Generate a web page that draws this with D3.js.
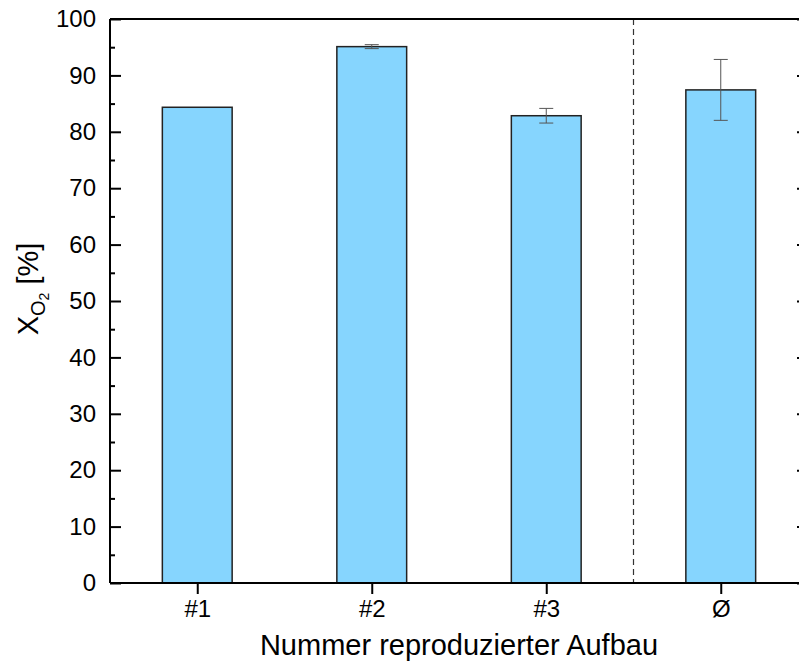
<!DOCTYPE html>
<html><head><meta charset="utf-8">
<script src="https://cdn.jsdelivr.net/npm/d3@7"></script>
<style>body{margin:0;background:#fff}svg{display:block}text{font-family:"Liberation Sans",Arial,sans-serif;fill:#000}</style>
</head><body>
<svg id="c" width="799" height="663"></svg>
<script>
const categories = ["#1", "#2", "#3", "Ø"];
const values = [84.35, 95.1, 82.85, 87.43];
const errors = [0, 0.35, 1.3, 5.4];
const yTicks = [0, 10, 20, 30, 40, 50, 60, 70, 80, 90, 100];
const separatorAt = 3.5;

const svg = d3.select("#c");
const L = 110, R = 808, T = 19, B = 583;
const x = d3.scaleLinear().domain([0.5, 4.5]).range([L, R]);
const y = d3.scaleLinear().domain([0, 100]).range([B, T]);
const bw = 0.4;

// bars
svg.append("g").selectAll("rect").data(values).join("rect")
  .attr("x", (d,i) => x(i+1-bw/2)).attr("width", x(1+bw/2)-x(1-bw/2))
  .attr("y", d => y(d)).attr("height", d => y(0)-y(d))
  .attr("fill", "#86d5fe").attr("stroke", "#222").attr("stroke-width", 1.5);

// error bars
const eg = svg.append("g").attr("stroke", "#555").attr("stroke-width", 1);
values.forEach((v,i) => {
  const e = errors[i]; if (!e) return;
  const cx = x(i+1);
  eg.append("line").attr("x1", cx).attr("x2", cx).attr("y1", y(v+e)).attr("y2", y(v-e));
  eg.append("line").attr("x1", cx-7).attr("x2", cx+7).attr("y1", y(v+e)).attr("y2", y(v+e));
  eg.append("line").attr("x1", cx-7).attr("x2", cx+7).attr("y1", y(v-e)).attr("y2", y(v-e));
});

// separator
svg.append("line").attr("x1", x(separatorAt)).attr("x2", x(separatorAt)).attr("y1", T).attr("y2", B)
  .attr("stroke", "#333").attr("stroke-width", 1.2).attr("stroke-dasharray", "6,4");

// axes
const minor = d3.range(5, 100, 10);
const gl = svg.append("g").attr("transform", `translate(${L},0)`)
  .call(d3.axisLeft(y).tickValues(yTicks).tickSize(-11).tickPadding(24).tickFormat(d3.format("d")));
const gr = svg.append("g").attr("transform", `translate(${R},0)`)
  .call(d3.axisRight(y).tickValues(yTicks).tickSize(-11).tickFormat(""));
const glm = svg.append("g").attr("transform", `translate(${L},0)`)
  .call(d3.axisLeft(y).tickValues(minor).tickSize(-5).tickFormat(""));
const grm = svg.append("g").attr("transform", `translate(${R},0)`)
  .call(d3.axisRight(y).tickValues(minor).tickSize(-5).tickFormat(""));
const gb = svg.append("g").attr("transform", `translate(0,${B})`)
  .call(d3.axisBottom(x).tickValues([1,2,3,4]).tickSize(11).tickPadding(6).tickFormat((d,i) => categories[i]));
const gt = svg.append("g").attr("transform", `translate(0,${T})`)
  .call(d3.axisTop(x).tickValues([]).tickSizeOuter(0));
[gl, gr, glm, grm, gb, gt].forEach(g => {
  g.selectAll(".domain").attr("stroke", "#000").attr("stroke-width", 2);
  g.selectAll(".tick line").attr("stroke", "#000").attr("stroke-width", 2);
  g.selectAll("text").attr("font-size", 24).attr("font-family", "Liberation Sans, Arial, sans-serif").attr("fill", "#000");
});
[gl, gr, glm, grm].forEach(g => g.select(".domain").attr("d", `M0,${B}V${T}`));
gb.select(".domain").attr("d", `M${L},0H${R}`);
gt.select(".domain").attr("d", `M${L},0H${R}`);
gl.selectAll("text").attr("x", -14);

// titles
svg.append("text").attr("x", 459).attr("y", 655).attr("text-anchor", "middle")
  .attr("font-size", 29).text("Nummer reproduzierter Aufbau");
const yt = svg.append("text").attr("transform", "translate(38,289) rotate(-90)").attr("text-anchor", "middle").attr("font-size", 29);
yt.append("tspan").text("X");
yt.append("tspan").attr("font-size", 20).attr("dy", 7).text("O");
yt.append("tspan").attr("font-size", 14).attr("dy", 4).text("2");
yt.append("tspan").attr("dy", -11).text(" [%]");
</script>
</body></html>
